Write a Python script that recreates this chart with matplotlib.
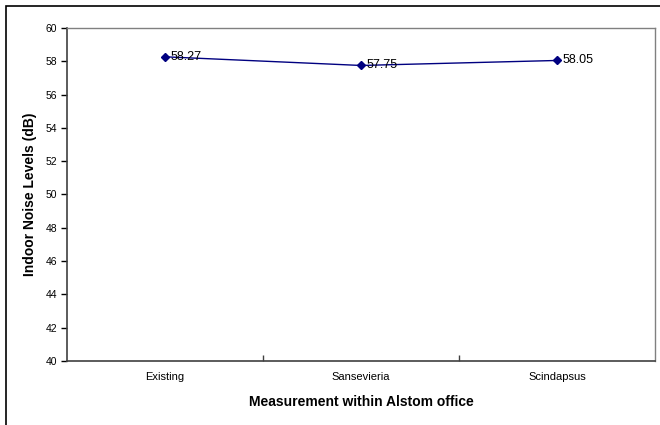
import matplotlib
matplotlib.use("Agg")
import matplotlib.pyplot as plt
from matplotlib.patches import Rectangle

categories = ["Existing", "Sansevieria", "Scindapsus"]
noise_db = [58.27, 57.75, 58.05]
value_labels = ["58.27", "57.75", "58.05"]
yticks = [40, 42, 44, 46, 48, 50, 52, 54, 56, 58, 60]

plt.rcParams['font.family'] = ['Liberation Sans', 'DejaVu Sans']

fig = plt.figure(figsize=(6.6, 4.25), dpi=100)
# outer chart border (right/bottom edges fall outside the image)
fig.patches.append(Rectangle((6 / 660, -0.1), 1.2, 1 - 6 / 425 + 0.1,
                             transform=fig.transFigure, fill=False,
                             edgecolor='black', linewidth=1.2))

ax = fig.add_axes([67 / 660, 64 / 425, 588 / 660, 333 / 425])
x = list(range(len(categories)))
ax.plot(x, noise_db, color='#000080', linewidth=1, marker='D', markersize=4)
for xi, v, lab in zip(x, noise_db, value_labels):
    ax.annotate(lab, (xi, v), xytext=(4, 0), textcoords='offset points',
                va='center', ha='left', fontsize=9)

ax.set_xlim(-0.5, 2.5)
ax.set_ylim(40, 60)
ax.set_yticks(yticks)
ax.set_yticklabels([str(t) for t in yticks], fontsize=7.5)
ax.set_xticks(x)
ax.set_xticklabels(categories, fontsize=8)
ax.set_xticks([0.5, 1.5], minor=True)
ax.tick_params(axis='x', which='major', length=0, pad=8)
ax.tick_params(axis='x', which='minor', length=4, direction='in', width=1, colors='#404040')
ax.tick_params(axis='y', length=4, direction='out', width=1, pad=3)

for s in ['top', 'right']:
    ax.spines[s].set_color('#808080')
    ax.spines[s].set_linewidth(1)
for s in ['left', 'bottom']:
    ax.spines[s].set_color('#404040')
    ax.spines[s].set_linewidth(1.2)

ax.set_xlabel("Measurement within Alstom office", fontsize=10, fontweight='bold', labelpad=9)
ax.set_ylabel("Indoor Noise Levels (dB)", fontsize=10, fontweight='bold', labelpad=6)

fig.savefig("out.png", dpi=100)
